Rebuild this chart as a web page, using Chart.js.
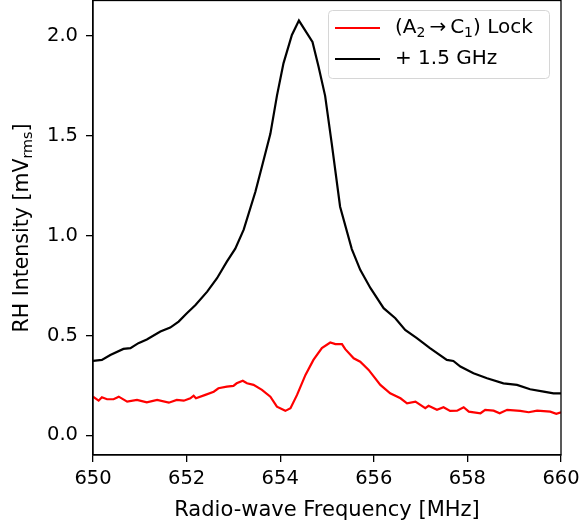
<!DOCTYPE html>
<html>
<head>
<meta charset="utf-8">
<script src="https://cdn.jsdelivr.net/npm/chart.js@4.4.1/dist/chart.umd.min.js"></script>
<style>
  html, body { margin: 0; padding: 0; background: #fff; }
  #wrap { width: 582px; height: 523px; }
</style>
</head>
<body>
<div id="wrap"><canvas id="rhChart" width="582" height="523"></canvas></div>
<script>
// (A2 -> C1) Lock trace
var lockFreq = [650.00, 650.12, 650.19, 650.30, 650.44, 650.55, 650.73, 650.94, 651.15, 651.37, 651.62, 651.79,
  651.94, 652.08, 652.15, 652.20, 652.40, 652.58, 652.68, 652.86, 653.00, 653.07, 653.20, 653.29, 653.43, 653.61,
  653.79, 653.93, 654.11, 654.22, 654.36, 654.54, 654.71, 654.89, 655.07, 655.18, 655.32, 655.39, 655.57, 655.71,
  655.89, 656.14, 656.35, 656.57, 656.71, 656.89, 657.10, 657.17, 657.35, 657.49, 657.63, 657.78, 657.92, 658.03,
  658.28, 658.38, 658.56, 658.69, 658.85, 659.13, 659.31, 659.49, 659.77, 659.90, 660.00];
var lockVal = [0.194, 0.174, 0.191, 0.181, 0.181, 0.194, 0.169, 0.178, 0.166, 0.178, 0.164, 0.178,
  0.174, 0.186, 0.199, 0.186, 0.203, 0.219, 0.236, 0.244, 0.248, 0.261, 0.274, 0.261, 0.253, 0.228,
  0.194, 0.144, 0.123, 0.136, 0.203, 0.303, 0.378, 0.437, 0.465, 0.457, 0.457, 0.432, 0.386, 0.369,
  0.328, 0.253, 0.211, 0.186, 0.161, 0.169, 0.136, 0.148, 0.128, 0.141, 0.123, 0.124, 0.141, 0.119,
  0.111, 0.128, 0.124, 0.111, 0.128, 0.123, 0.116, 0.124, 0.119, 0.108, 0.116];

// + 1.5 GHz trace
var offFreq = [650.00, 650.19, 650.37, 650.65, 650.80, 650.97, 651.15, 651.44, 651.65, 651.83, 652.00, 652.19,
  652.44, 652.65, 652.86, 653.04, 653.22, 653.47, 653.61, 653.79, 653.93, 654.07, 654.25, 654.40, 654.69,
  654.82, 654.96, 655.10, 655.28, 655.53, 655.71, 655.93, 656.21, 656.46, 656.67, 656.92, 657.20, 657.56,
  657.70, 657.85, 658.13, 658.42, 658.77, 659.06, 659.34, 659.63, 659.84, 660.00];
var offVal = [0.373, 0.378, 0.403, 0.433, 0.437, 0.462, 0.480, 0.520, 0.540, 0.570, 0.610, 0.653,
  0.720, 0.787, 0.870, 0.935, 1.030, 1.220, 1.346, 1.510, 1.700, 1.863, 2.005, 2.077, 1.970,
  1.846, 1.700, 1.463, 1.145, 0.933, 0.829, 0.737, 0.637, 0.587, 0.528, 0.487, 0.437, 0.378,
  0.373, 0.345, 0.311, 0.286, 0.261, 0.253, 0.231, 0.219, 0.211, 0.211];

var xTicks = [650, 652, 654, 656, 658, 660];
var yTicks = [0.0, 0.5, 1.0, 1.5, 2.0];

var FONT = '"DejaVu Sans", sans-serif';

function toPoints(xs, ys) {
    return xs.map(function(x, i) { return { x: x, y: ys[i] }; });
}

// draw text with parts that may be subscripts
function drawRich(ctx, parts, x, y, size) {
    var cx = x;
    parts.forEach(function(p) {
        var s = p.sub ? size * 0.7 : size;
        ctx.font = s + 'px ' + FONT;
        ctx.fillText(p.t, cx, y + (p.sub ? size * 0.25 : 0));
        cx += ctx.measureText(p.t).width;
    });
    return cx - x;
}
function richWidth(ctx, parts, size) {
    var w = 0;
    parts.forEach(function(p) {
        ctx.font = (p.sub ? size * 0.7 : size) + 'px ' + FONT;
        w += ctx.measureText(p.t).width;
    });
    return w;
}

var extras = {
    id: 'extras',
    afterDraw: function(chart) {
        var ctx = chart.ctx, a = chart.chartArea;
        ctx.save();
        // frame
        ctx.strokeStyle = '#000';
        ctx.lineWidth = 1.3;
        ctx.strokeRect(a.left, a.top + 0.5, a.right - a.left, a.bottom - a.top - 0.5);

        // legend
        var bx = 328.5, by = 10.5, bw = 221, bh = 68;
        ctx.beginPath();
        ctx.roundRect(bx, by, bw, bh, 4);
        ctx.fillStyle = 'rgba(255,255,255,0.8)';
        ctx.fill();
        ctx.strokeStyle = '#d6d6d6';
        ctx.lineWidth = 1;
        ctx.stroke();
        var rows = [
            { color: '#ff0000', y: 28, parts: [{ t: '(A' }, { t: '2', sub: true }, { t: '\u2009\u2192\u2009C' }, { t: '1', sub: true }, { t: ') Lock' }] },
            { color: '#000000', y: 59, parts: [{ t: '+ 1.5 GHz' }] }
        ];
        rows.forEach(function(r) {
            ctx.strokeStyle = r.color;
            ctx.lineWidth = 2.2;
            ctx.beginPath();
            ctx.moveTo(335, r.y);
            ctx.lineTo(380, r.y);
            ctx.stroke();
            ctx.fillStyle = '#000';
            ctx.textBaseline = 'middle';
            drawRich(ctx, r.parts, 395, r.y, 20);
        });

        // y axis title with subscript
        var yParts = [{ t: 'RH Intensity [mV' }, { t: 'rms', sub: true }, { t: ']' }];
        var size = 20.5;
        var w = richWidth(ctx, yParts, size);
        ctx.translate(23, 228);
        ctx.rotate(-Math.PI / 2);
        ctx.textBaseline = 'middle';
        ctx.fillStyle = '#000';
        drawRich(ctx, yParts, -w / 2, 0, size);
        ctx.restore();
    }
};

var ctx = document.getElementById('rhChart').getContext('2d');
var rhChart = new Chart(ctx, {
    type: 'line',
    data: {
        datasets: [{
            label: '(A2 \u2192 C1) Lock',
            data: toPoints(lockFreq, lockVal),
            borderColor: '#ff0000',
            borderWidth: 2.2,
            pointRadius: 0,
            tension: 0,
            fill: false
        }, {
            label: '+ 1.5 GHz',
            data: toPoints(offFreq, offVal),
            borderColor: '#000000',
            borderWidth: 2.2,
            pointRadius: 0,
            tension: 0,
            fill: false
        }]
    },
    options: {
        responsive: false,
        animation: false,
        layout: { padding: { top: 0, right: 21, left: 0, bottom: 0 } },
        plugins: {
            legend: { display: false },
            tooltip: { enabled: false }
        },
        scales: {
            x: {
                type: 'linear',
                min: 650,
                max: 660,
                afterBuildTicks: function(scale) {
                    scale.ticks = xTicks.map(function(v) { return { value: v }; });
                },
                afterFit: function(scale) {
                    scale.height = 68;
                    scale.paddingLeft = 0;
                    scale.paddingRight = 0;
                },
                grid: { display: true, drawOnChartArea: false, drawTicks: true, tickLength: 7, color: '#000', lineWidth: 1.3 },
                border: { display: true, color: '#000', width: 1.3 },
                ticks: {
                    color: '#000',
                    font: { family: FONT, size: 19.5 },
                    padding: 5,
                    maxRotation: 0,
                    callback: function(v) { return v.toFixed(0); }
                },
                title: {
                    display: true,
                    text: 'Radio-wave Frequency [MHz]',
                    color: '#000',
                    font: { family: FONT, size: 21 },
                    padding: { top: 0, bottom: 0 }
                }
            },
            y: {
                type: 'linear',
                min: -0.098,
                max: 2.18,
                afterBuildTicks: function(scale) {
                    scale.ticks = yTicks.map(function(v) { return { value: v }; });
                },
                afterFit: function(scale) {
                    scale.width = 93;
                    scale.paddingTop = 0;
                    scale.paddingBottom = 0;
                },
                grid: { display: true, drawOnChartArea: false, drawTicks: true, tickLength: 7, color: '#000', lineWidth: 1.3 },
                border: { display: true, color: '#000', width: 1.3 },
                ticks: {
                    color: '#000',
                    font: { family: FONT, size: 19.5 },
                    padding: 8,
                    callback: function(v) { return v.toFixed(1); }
                }
            }
        }
    },
    plugins: [extras]
});
</script>
</body>
</html>
